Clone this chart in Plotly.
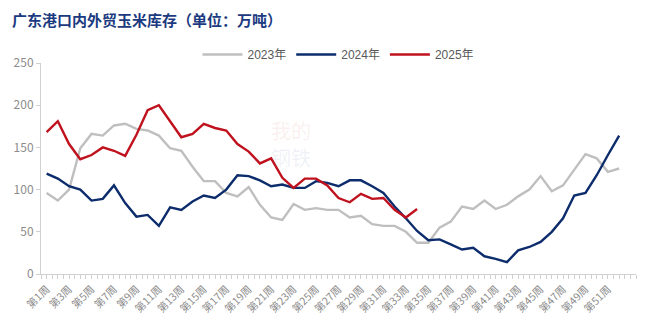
import plotly.graph_objects as go

weeks = list(range(1, 53))
tick_weeks = list(range(1, 52, 2))
tick_labels = [f"第{w}周" for w in tick_weeks]

y2023 = [96, 87, 100, 149, 166, 164, 176, 178, 172, 170, 164, 149, 146, 127, 110, 110,
         96, 92, 103, 82, 67, 64, 83, 76, 78, 76, 76, 67, 69, 59, 57, 57, 50, 37, 37,
         55, 62, 80, 77, 87, 77, 82, 92, 100, 116, 98, 105, 123, 142, 137, 121, 125]
y2024 = [119, 113, 104, 100, 87, 89, 105, 84, 68, 70, 57, 79, 76, 86, 93, 90,
         100, 117, 116, 111, 104, 106, 102, 102, 110, 108, 104, 111, 111, 104, 96, 80,
         66, 51, 40, 41, 35, 29, 31, 21, 18, 14, 28, 32, 38, 50, 66, 93, 96, 117, 141, 164]
y2025 = [168, 181, 154, 136, 141, 150, 146, 140, 165, 194, 200, 181, 162, 166, 178, 173,
         170, 154, 145, 131, 137, 114, 102, 113, 113, 105, 90, 85, 95, 89, 90, 76, 67, 77]

series = [("2023年", y2023, "#BFBFBF"), ("2024年", y2024, "#0D2C6C"), ("2025年", y2025, "#C0121E")]

fig = go.Figure()
for name, vals, color in series:
    fig.add_trace(go.Scatter(x=weeks[:len(vals)], y=vals, name=name, mode="lines",
                             line=dict(color=color, width=2.4)))

fig.update_layout(
    width=660, height=332,
    margin=dict(l=41, r=24, t=63, b=58),
    paper_bgcolor="white", plot_bgcolor="white",
    font=dict(family="Noto Sans CJK SC, Liberation Sans, sans-serif", color="#808080"),
    title=dict(text="<b>广东港口内外贸玉米库存（单位：万吨）</b>", x=0.018, xanchor="left",
               y=0.938, yanchor="middle",
               font=dict(size=15, color="#1B3A80", family="Noto Sans CJK SC")),
    legend=dict(orientation="h", x=0.5, xanchor="center", y=1.04, yanchor="middle",
                font=dict(size=12, color="#595959", family="Liberation Sans, Noto Sans CJK SC"),
                itemwidth=40, tracegroupgap=0, bgcolor="rgba(0,0,0,0)"),
    showlegend=True,
)
fig.update_xaxes(range=[0.5, 53.5], tickmode="array", tickvals=tick_weeks, ticktext=tick_labels,
                 tickangle=-45, tickfont=dict(size=10.5, color="#8C8C8C"),
                 showgrid=False, zeroline=False, showline=True, linecolor="#D0D0D0", linewidth=1,
                 ticks="outside", ticklen=4, tickcolor="rgba(0,0,0,0)",
                 minor=dict(tick0=0.5, dtick=0.5, ticks="outside", ticklen=4,
                            tickcolor="#D0D0D0", showgrid=False))
fig.update_yaxes(range=[0, 250], tickvals=[0, 50, 100, 150, 200, 250], tickfont=dict(size=12, color="#8C8C8C"),
                 showgrid=False, zeroline=False, showline=True, linecolor="#D0D0D0", linewidth=1,
                 ticks="outside", ticklen=4, tickcolor="#D0D0D0")

fig.add_annotation(text="我的", xref="paper", yref="paper", x=0.42, y=0.76, showarrow=False,
                   font=dict(size=20, color="rgba(220,120,120,0.12)", family="Noto Sans CJK SC"))
fig.add_annotation(text="钢铁", xref="paper", yref="paper", x=0.42, y=0.55, showarrow=False,
                   font=dict(size=20, color="rgba(120,140,190,0.12)", family="Noto Sans CJK SC"))

fig.write_html("out.html")
